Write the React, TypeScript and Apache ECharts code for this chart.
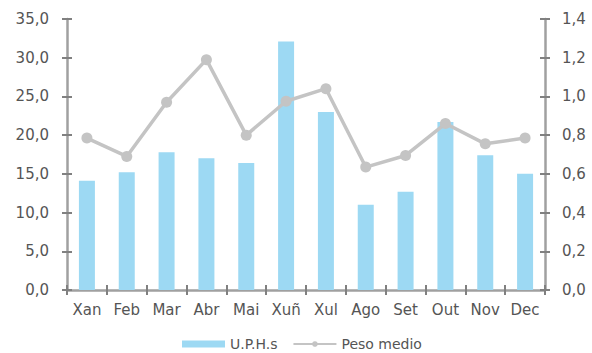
import React, { useEffect, useRef } from "react";
import * as echarts from "echarts";

const categories = ["Xan", "Feb", "Mar", "Abr", "Mai", "Xuñ", "Xul", "Ago", "Set", "Out", "Nov", "Dec"];
const uphValues = [14.1, 15.2, 17.8, 17.0, 16.4, 32.1, 23.0, 11.0, 12.7, 21.7, 17.4, 15.0];
const pesoValues = [0.785, 0.69, 0.97, 1.19, 0.8, 0.975, 1.04, 0.635, 0.695, 0.86, 0.755, 0.785];

const axisColor = "#a0a0a0";
const labelColor = "#555555";
const font = "'DejaVu Sans', sans-serif";

export default function App() {
  const ref = useRef<HTMLDivElement>(null);
  useEffect(() => {
    const chart = echarts.init(ref.current!, null, { renderer: "svg" });
    const yBase = (pos: "left" | "right", max: number, interval: number, dec: number, margin: number) => ({
      type: "value",
      position: pos,
      min: 0,
      max,
      interval,
      axisLine: { show: true, lineStyle: { color: axisColor, width: 2.5 } },
      axisTick: { show: true, inside: false, length: 5, lineStyle: { color: "#808080", width: 2 } },
      axisLabel: {
        color: labelColor,
        fontFamily: font,
        fontSize: 15,
        margin,
        formatter: (v: number) => v.toFixed(dec).replace(".", ","),
      },
      splitLine: { show: false },
    });
    const yInner = (pos: "left" | "right", max: number, interval: number) => ({
      type: "value",
      position: pos,
      min: 0,
      max,
      interval,
      axisLine: { show: false },
      axisTick: { show: true, inside: true, length: 5, lineStyle: { color: "#808080", width: 2 } },
      axisLabel: { show: false },
      splitLine: { show: false },
    });
    chart.setOption({
      animation: false,
      grid: { left: 67, right: 47, top: 19, bottom: 63, containLabel: false },
      legend: {
        top: 336,
        left: 182,
        padding: 0,
        itemGap: 15,
        itemWidth: 43,
        itemHeight: 7,
        textStyle: { color: labelColor, fontFamily: font, fontSize: 14, lineHeight: 16 },
        data: [
          { name: "U.P.H.s", icon: "rect" },
          { name: "Peso medio" },
        ],
      },
      xAxis: [
        {
          type: "category",
          data: categories,
          axisLine: { show: true, lineStyle: { color: axisColor, width: 2.5 } },
          axisTick: { show: true, inside: false, length: 5, lineStyle: { color: "#808080", width: 2 } },
          axisLabel: { color: labelColor, fontFamily: font, fontSize: 15, margin: 12 },
        },
        {
          type: "category",
          data: categories,
          position: "bottom",
          axisLine: { show: false },
          axisTick: { show: true, inside: true, length: 5, lineStyle: { color: "#808080", width: 2 } },
          axisLabel: { show: false },
        },
      ],
      yAxis: [
        yBase("left", 35, 5, 1, 18),
        yBase("right", 1.4, 0.2, 1, 17),
        yInner("left", 35, 5),
        yInner("right", 1.4, 0.2),
      ],
      series: [
        {
          name: "U.P.H.s",
          type: "bar",
          data: uphValues,
          barWidth: 16,
          itemStyle: { color: "#9dd9f3" },
          yAxisIndex: 0,
        },
        {
          name: "Peso medio",
          type: "line",
          data: pesoValues,
          yAxisIndex: 1,
          symbol: "circle",
          symbolSize: 11,
          lineStyle: { color: "#c4c4c4", width: 3.5 },
          itemStyle: { color: "#c4c4c4" },
        },
      ],
    });
    return () => chart.dispose();
  }, []);
  return <div ref={ref} style={{ width: 592, height: 353, position: "absolute", left: 0, top: 0 }} />;
}
